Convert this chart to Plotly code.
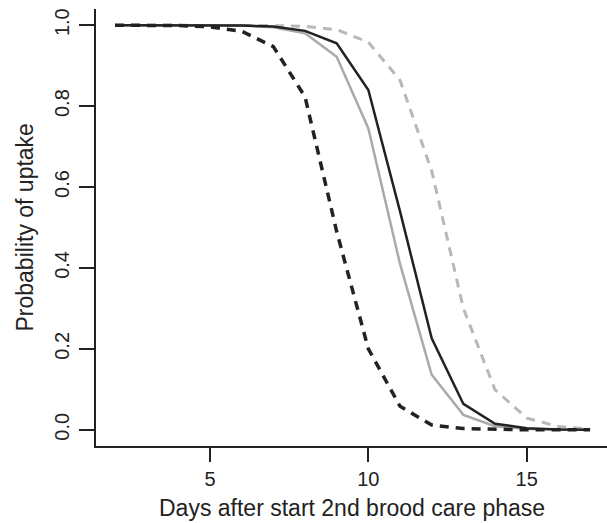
import plotly.graph_objects as go

days = list(range(2, 18))

# Probability of uptake per day
solid_black = [1.0, 1.0, 1.0, 1.0, 0.999, 0.997, 0.986, 0.955, 0.84, 0.54, 0.226, 0.064, 0.015, 0.004, 0.001, 0.0]
solid_gray = [1.0, 1.0, 1.0, 1.0, 0.999, 0.995, 0.98, 0.922, 0.745, 0.41, 0.136, 0.037, 0.009, 0.002, 0.001, 0.0]
dashed_black = [1.0, 1.0, 0.999, 0.996, 0.985, 0.947, 0.823, 0.49, 0.20, 0.058, 0.012, 0.003, 0.001, 0.0, 0.0, 0.0]
dashed_gray = [1.0, 1.0, 1.0, 1.0, 1.0, 0.999, 0.997, 0.989, 0.958, 0.864, 0.64, 0.30, 0.099, 0.029, 0.008, 0.002]

x_ticks = [5, 10, 15]
y_ticks = [0.0, 0.2, 0.4, 0.6, 0.8, 1.0]
y_tick_text = ["0.0", "0.2", "0.4", "0.6", "0.8", "1.0"]

INK = "#222222"
FONT = "Liberation Sans, Arial, Helvetica, sans-serif"

fig = go.Figure()
fig.add_trace(go.Scatter(x=days, y=dashed_gray, mode="lines",
                         line=dict(color="#b8b8b8", width=3, dash="9px,7px")))
fig.add_trace(go.Scatter(x=days, y=solid_gray, mode="lines",
                         line=dict(color="#aaaaaa", width=2.5)))
fig.add_trace(go.Scatter(x=days, y=dashed_black, mode="lines",
                         line=dict(color=INK, width=3.5, dash="9px,7px")))
fig.add_trace(go.Scatter(x=days, y=solid_black, mode="lines",
                         line=dict(color=INK, width=2.5)))

W, H = 607, 523
L, R, T, B = 96, 0, 9, 77
px_per_day = 31.67
x0 = 1.4
x1 = x0 + (W - L - R) / px_per_day

fig.update_layout(
    width=W, height=H,
    margin=dict(l=L, r=R, t=T, b=B, pad=0),
    paper_bgcolor="white", plot_bgcolor="white",
    showlegend=False,
    font=dict(family=FONT, color=INK, size=20),
    xaxis=dict(range=[x0, x1], tickvals=x_ticks, ticks="outside", ticklen=14,
               tickwidth=2, tickcolor=INK, showline=True, linewidth=2,
               linecolor=INK, showgrid=False, zeroline=False,
               tickfont=dict(size=20, color=INK)),
    yaxis=dict(range=[-0.04, 1.04], tickvals=y_ticks, ticktext=y_tick_text,
               ticks="outside", ticklen=15, tickwidth=2, tickcolor=INK,
               showline=True, linewidth=2, linecolor=INK, showgrid=False,
               zeroline=False, tickangle=-90,
               tickfont=dict(size=20, color=INK), ticklabelstandoff=2),
)

fig.add_annotation(text="Days after start 2nd brood care phase",
                   xref="paper", yref="paper", x=0.5, y=-(508 - (H - B)) / (H - T - B),
                   showarrow=False, font=dict(size=23, color=INK),
                   xanchor="center", yanchor="middle")
fig.add_annotation(text="Probability of uptake",
                   xref="paper", yref="paper", x=-(L - 24) / (W - L - R), y=0.5,
                   showarrow=False, font=dict(size=23, color=INK), textangle=-90,
                   xanchor="center", yanchor="middle")

fig.write_html("out.html")
